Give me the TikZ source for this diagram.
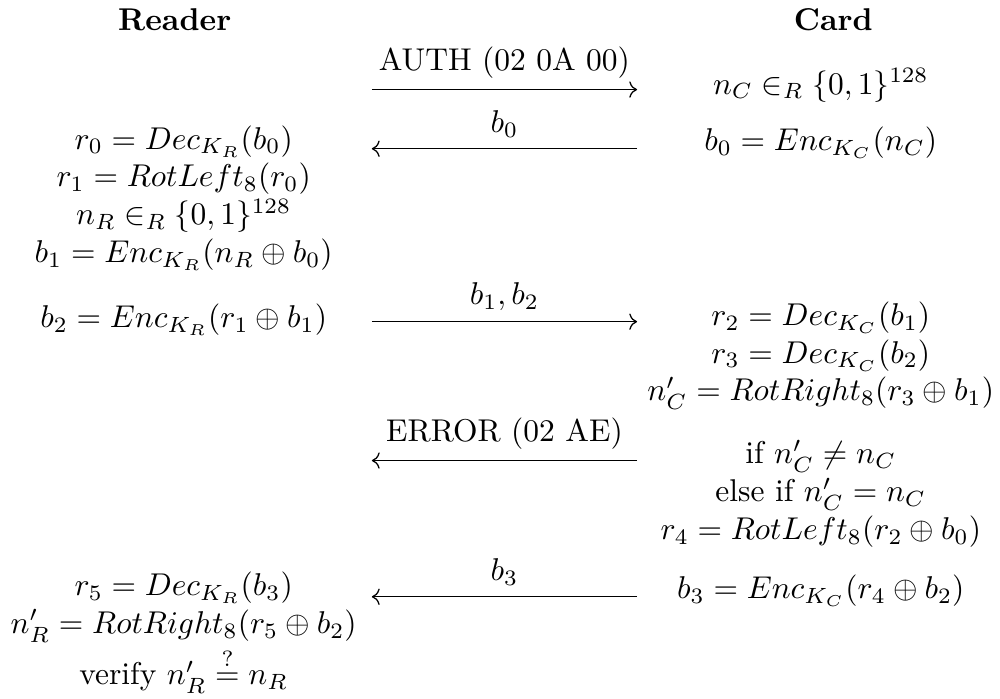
\documentclass[tikz,border=0pt]{standalone}
\usepackage{amsmath, amssymb}
\usepackage{tikz}
\usetikzlibrary{arrows.meta, positioning, calc}

\begin{document}
\begin{tikzpicture}[every node/.style={align=center}, msg/.style={->}]
  \useasboundingbox (0,0) rectangle (11.16,-7.80);
  % parties
  \node (reader) at (1.95,-0.22) {\textbf{Reader}};
  \node (card) at (9.30,-0.22) {\textbf{Card}};
  % message end points
  \coordinate (ra) at (4.15,-1.00);  \coordinate (ca) at (7.11,-1.00);
  \coordinate (rb) at (4.15,-1.66);  \coordinate (cb) at (7.11,-1.66);
  \coordinate (rc) at (4.15,-3.59);  \coordinate (cc) at (7.11,-3.59);
  \coordinate (rd) at (4.15,-5.14);  \coordinate (cd) at (7.11,-5.14);
  \coordinate (re) at (4.15,-6.66);  \coordinate (ce) at (7.11,-6.66);
  % card side
  \node (nc) at (9.16,-0.95) {$n_C \in_R \{0,1\}^{128}$};
  \node (encb0) at (9.16,-1.59) {$b_0 = Enc_{K_C}(n_C)$};
  \node (check) at (9.16,-3.97) {$r_2 = Dec_{K_C}(b_1)$\\
    $r_3 = Dec_{K_C}(b_2)$\\ $n'_C = RotRight_8(r_3 \oplus b_1)$};
  \node (branch) at (9.16,-5.51) {if $n'_C \neq n_C$\\ else if $n'_C = n_C$\\
    $r_4 = RotLeft_8(r_2 \oplus b_0)$};
  \node (encb3) at (9.16,-6.59) {$b_3 = Enc_{K_C}(r_4 \oplus b_2)$};
  % reader side
  \node (resp) at (2.05,-2.21) {$r_0 = Dec_{K_R}(b_0)$\\ $r_1 = RotLeft_8(r_0)$\\
    $n_R \in_R \{0,1\}^{128}$\\ $b_1 = Enc_{K_R}(n_R \oplus b_0)$};
  \node (encb2) at (2.05,-3.57) {$b_2 = Enc_{K_R}(r_1 \oplus b_1)$};
  \node (verify) at (2.05,-7.06) {$r_5 = Dec_{K_R}(b_3)$\\
    $n'_R = RotRight_8(r_5 \oplus b_2)$\\[1pt] verify $n'_R \stackrel{?}{=} n_R$};
  % messages
  \draw[msg] (ra) -- node[above] {AUTH (02 0A 00)} (ca);
  \draw[msg] (cb) -- node[above] {$b_0$} (rb);
  \draw[msg] (rc) -- node[above] {$b_1, b_2$} (cc);
  \draw[msg] (cd) -- node[above] {ERROR (02 AE)} (rd);
  \draw[msg] (ce) -- node[above] {$b_3$} (re);
\end{tikzpicture}
\end{document}
